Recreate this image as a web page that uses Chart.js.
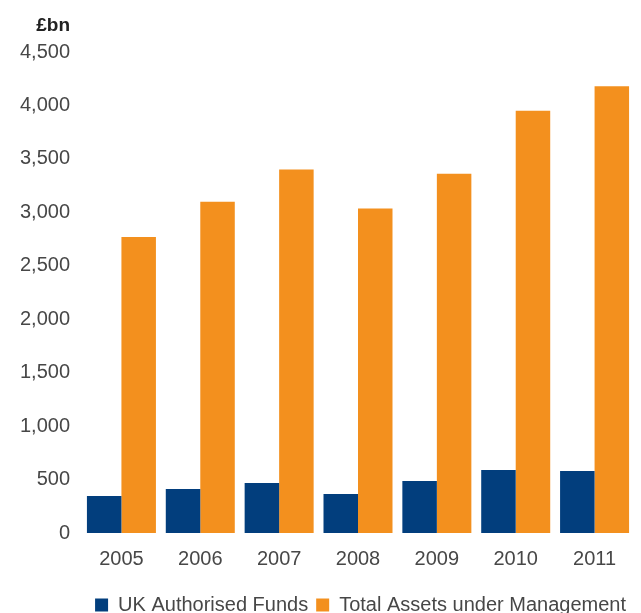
<!DOCTYPE html>
<html>
<head>
<meta charset="utf-8">
<title>UK Authorised Funds vs Total Assets under Management</title>
<script src="https://cdn.jsdelivr.net/npm/chart.js@4/dist/chart.umd.min.js"></script>
<style>
  html, body { margin: 0; padding: 0; background: #fff; overflow: hidden; }
  #wrap { width: 641px; height: 613px; overflow: hidden; }
</style>
</head>
<body>
<div id="wrap"><canvas id="fundsChart" width="641" height="625"></canvas></div>
<script>
// ===== Data (£bn) =====
const years = ['2005', '2006', '2007', '2008', '2009', '2010', '2011'];
const ukAuthorisedFunds = [346, 412, 468, 365, 487, 590, 580];
const totalAssets = [2770, 3100, 3400, 3035, 3360, 3950, 4180];
const yTicks = [0, 500, 1000, 1500, 2000, 2500, 3000, 3500, 4000, 4500];
const unitLabel = '£bn';

// ===== Styling =====
const chartFont = "'Liberation Sans', Arial, sans-serif";
const colorBlue = '#023e7d';
const colorOrange = '#f3901e';
const textGray = '#474747';

Chart.defaults.font.family = chartFont;
Chart.defaults.color = textGray;

// unit label above the y axis
const unitLabelPlugin = {
  id: 'unitLabel',
  afterDraw(chart) {
    const ctx = chart.ctx;
    const y = chart.scales.y;
    ctx.save();
    ctx.font = 'bold 19px ' + chartFont;
    ctx.fillStyle = '#222222';
    ctx.textAlign = 'right';
    ctx.textBaseline = 'middle';
    ctx.fillText(unitLabel, y.right - 12, 26);
    ctx.restore();
  }
};

new Chart(document.getElementById('fundsChart'), {
  type: 'bar',
  data: {
    labels: years,
    datasets: [
      {
        label: 'UK Authorised Funds',
        data: ukAuthorisedFunds,
        backgroundColor: colorBlue,
        borderWidth: 0,
        categoryPercentage: 0.875,
        barPercentage: 1.0
      },
      {
        label: 'Total Assets under Management',
        data: totalAssets,
        backgroundColor: colorOrange,
        borderWidth: 0,
        categoryPercentage: 0.875,
        barPercentage: 1.0
      }
    ]
  },
  options: {
    responsive: false,
    animation: false,
    layout: { padding: { top: 52, right: 7, left: 0, bottom: 0 } },
    plugins: {
      legend: {
        position: 'bottom',
        align: 'end',
        labels: {
          boxWidth: 13,
          boxHeight: 13,
          padding: 8,
          color: textGray,
          font: { size: 20 }
        }
      },
      tooltip: { enabled: false }
    },
    scales: {
      x: {
        grid: { display: false, drawTicks: false },
        border: { display: false },
        ticks: { padding: 14, font: { size: 20 }, color: textGray },
        afterFit(scale) {
          const legendH = scale.chart.legend ? scale.chart.legend.height : 0;
          scale.height = scale.chart.height - legendH - 533;
        }
      },
      y: {
        min: 0,
        max: 4500,
        grid: { display: false, drawTicks: false },
        border: { display: false },
        afterBuildTicks(scale) {
          scale.ticks = yTicks.map(v => ({ value: v }));
        },
        ticks: {
          padding: 12,
          font: { size: 20 },
          color: textGray,
          callback: (v) => v.toLocaleString('en-GB')
        },
        afterFit(scale) { scale.width = 82; }
      }
    }
  },
  plugins: [unitLabelPlugin]
});
</script>
</body>
</html>
